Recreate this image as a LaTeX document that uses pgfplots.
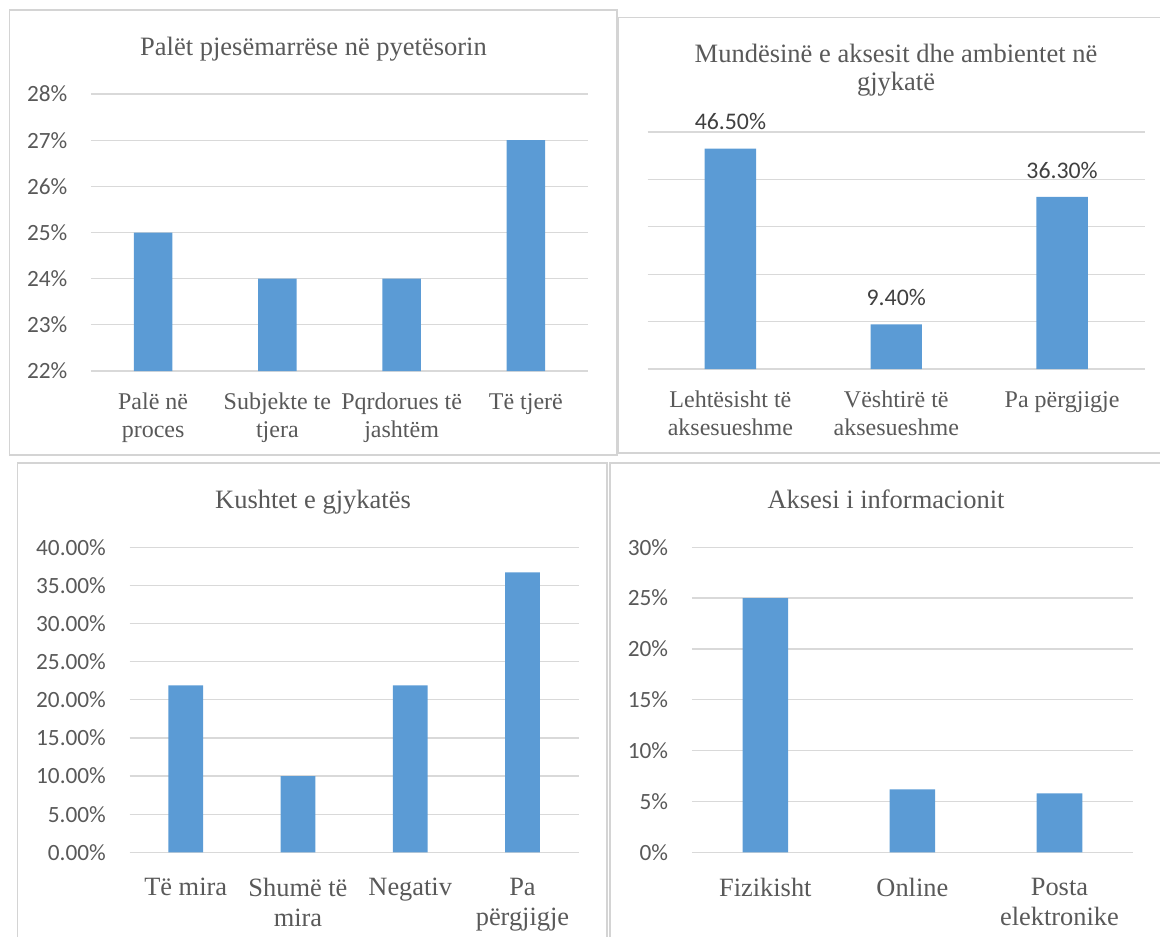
\documentclass[border=0pt]{standalone}
\usepackage{fontspec}
\setmainfont{Liberation Serif}
\newfontfamily\calib{Carlito}
\usepackage{pgfplots}
\pgfplotsset{compat=1.18}

\definecolor{barblue}{HTML}{5B9BD5}
\definecolor{gridgray}{HTML}{D9D9D9}
\definecolor{framegray}{HTML}{D4D4D4}
\definecolor{txtgray}{HTML}{595959}
\definecolor{lblgray}{HTML}{404040}

\pgfplotsset{
  panel/.style={
    scale only axis, anchor=south west,
    ybar, bar width=0.31, enlargelimits=false,
    axis line style={draw=none}, tick style={draw=none},
    ymajorgrids, grid style={draw=gridgray, line width=1.3pt},
    yticklabel style={font=\calib\fontsize{23.3}{28}\selectfont, text=txtgray,
      anchor=east, inner sep=0pt, xshift=-23.5pt},
    xticklabel style={align=center, text=txtgray, anchor=north, inner sep=0pt},
  },
  smallcat/.style={xticklabel style={font=\fontsize{24}{27.5}\selectfont, yshift=-17.8pt}},
  bigcat/.style={xticklabel style={font=\fontsize{26.4}{30}\selectfont, yshift=-21pt}},
}

\newcommand\ttl{\fontsize{26.5}{30}\selectfont}

\begin{document}
\begin{tikzpicture}
\useasboundingbox (0pt,0pt) rectangle (1160pt,-937pt);

% frames
\draw[framegray, line width=1.8pt] (9.5pt,-10pt) rectangle (617pt,-455pt);
\draw[framegray, line width=1.8pt] (618pt,-17.5pt) rectangle (1170pt,-453pt);
\draw[framegray, line width=1.8pt] (17.5pt,-463pt) rectangle (607pt,-950pt);
\draw[framegray, line width=1.8pt] (610pt,-463pt) rectangle (1170pt,-950pt);

% titles
\node[font=\ttl, text=txtgray, anchor=base] at (313.5pt,-55pt) {Palët pjesëmarrëse në pyetësorin};
\node[font=\ttl, text=txtgray, anchor=base] at (896pt,-62pt) {Mundësinë e aksesit dhe ambientet në};
\node[font=\ttl, text=txtgray, anchor=base] at (896pt,-90pt) {gjykatë};
\node[font=\ttl, text=txtgray, anchor=base] at (313pt,-508pt) {Kushtet e gjykatës};
\node[font=\ttl, text=txtgray, anchor=base] at (886pt,-508pt) {Aksesi i informacionit};

% top left
\begin{axis}[panel, smallcat, at={(91pt,-371pt)}, width=497pt, height=277pt,
  xmin=-0.5, xmax=3.5, xtick={0,1,2,3},
  xticklabels={{Palë në\\proces},{Subjekte te\\tjera},{Pqrdorues të\\jashtëm},{Të tjerë}},
  ymin=22, ymax=28, ytick={22,23,24,25,26,27,28},
  yticklabels={22\%,23\%,24\%,25\%,26\%,27\%,28\%}]
\addplot[fill=barblue, draw=none] coordinates {(0,25) (1,24) (2,24) (3,27)};
\end{axis}

% top right
\begin{axis}[panel, smallcat, at={(647.5pt,-369pt)}, width=497.5pt, height=237pt,
  clip=false,
  xmin=-0.5, xmax=2.5, xtick={0,1,2},
  xticklabels={{Lehtësisht të\\aksesueshme},{Vështirë të\\aksesueshme},{Pa përgjigje}},
  ymin=0, ymax=50, ytick={0,10,20,30,40,50}, yticklabels={}]
\addplot[fill=barblue, draw=none, nodes near coords, point meta=explicit symbolic,
  nodes near coords style={font=\calib\fontsize{23.8}{28}\selectfont, text=lblgray,
    anchor=south, inner sep=0pt, yshift=18.5pt}]
  coordinates {(0,46.5)[46.50\%] (1,9.4)[9.40\%] (2,36.3)[36.30\%]};
\end{axis}

% bottom left
\begin{axis}[panel, bigcat, at={(129.6pt,-852.3pt)}, width=449pt, height=305pt,
  xmin=-0.5, xmax=3.5, xtick={0,1,2,3},
  xticklabels={{Të mira},{Shumë të\\mira},{Negativ},{Pa\\përgjigje}},
  ymin=0, ymax=40, ytick={0,5,10,15,20,25,30,35,40},
  yticklabels={0.00\%,5.00\%,10.00\%,15.00\%,20.00\%,25.00\%,30.00\%,35.00\%,40.00\%}]
\addplot[fill=barblue, draw=none] coordinates {(0,21.9) (1,10) (2,21.9) (3,36.7)};
\end{axis}

% bottom right
\begin{axis}[panel, bigcat, at={(691.8pt,-852.3pt)}, width=441.2pt, height=305pt,
  xmin=-0.5, xmax=2.5, xtick={0,1,2},
  xticklabels={{Fizikisht},{Online},{Posta\\elektronike}},
  ymin=0, ymax=30, ytick={0,5,10,15,20,25,30},
  yticklabels={0\%,5\%,10\%,15\%,20\%,25\%,30\%}]
\addplot[fill=barblue, draw=none] coordinates {(0,25) (1,6.2) (2,5.8)};
\end{axis}
\end{tikzpicture}
\end{document}
